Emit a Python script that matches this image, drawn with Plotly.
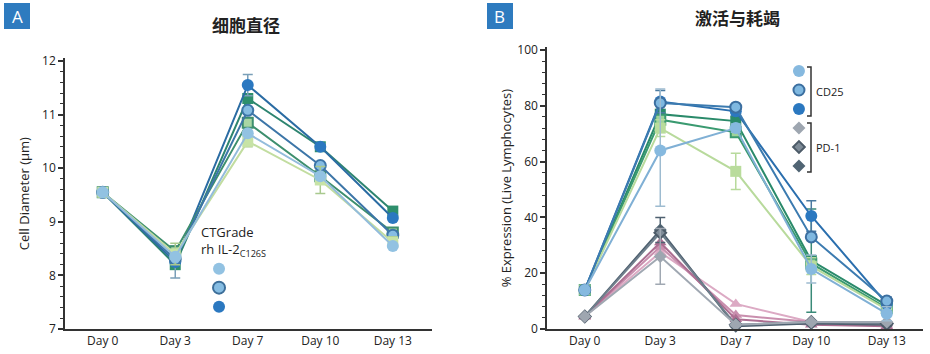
import plotly.graph_objects as go

days = ["Day 0", "Day 3", "Day 7", "Day 10", "Day 13"]

# Panel A: cell diameter (um)
a_circ_light = [9.55, 8.35, 10.65, 9.85, 8.55]
a_circ_outl = [9.55, 8.30, 11.08, 10.05, 8.75]
a_circ_dark = [9.55, 8.25, 11.55, 10.40, 9.07]
a_sq_light = [9.55, 8.40, 10.50, 9.78, 8.62]
a_sq_outl = [9.55, 8.45, 10.85, 9.85, 8.80]
a_sq_dark = [9.55, 8.20, 11.30, 10.40, 9.20]
a_err_circ_dark = [0, 0.30, 0.20, 0.05, 0.05]
a_err_sq_light = [0, 0.20, 0.10, 0.25, 0.10]

# Panel B: % expression (live lymphocytes)
b_cd25_light = [14, 64, 72, 21.5, 5.5]
b_cd25_outl = [14, 81, 79.5, 33, 10]
b_cd25_dark = [14, 81.5, 78, 40.5, 9]
b_sq_light = [14, 72, 56.5, 22.5, 7]
b_sq_outl = [14, 75, 70.5, 23.5, 7.5]
b_sq_dark = [14, 77, 74.5, 24.5, 8.5]
b_pd1_light = [4.5, 26, 1.5, 2.5, 2.5]
b_pd1_outl = [4.5, 34.5, 1.5, 2.5, 2]
b_pd1_dark = [4.5, 35.5, 1, 2, 1.5]
b_tri_light = [4.5, 27.5, 9, 2.5, 2]
b_tri_mid = [4.5, 29.5, 5, 2.5, 1.5]
b_tri_dark = [4.5, 31, 3.5, 1.5, 1]
b_err_cd25_light_p = [0, 22, 1.5, 5, 2.5]
b_err_cd25_light_m = [0, 20, 1.5, 5, 2.5]
b_err_cd25_dark = [0, 4, 1.5, 5.5, 2.5]
b_err_sq_light = [0, 3, 6.5, 3, 1.5]
b_err_sq_dark = [0, 3, 1.5, 18.5, 2]
b_err_pd1_light = [0, 10, 0.5, 0.5, 0.5]
b_err_pd1_dark = [0, 4.5, 0.5, 0.5, 0.5]

fig = go.Figure()


def add(xa, ya, y, color, line, symbol, size=11, outline=None, err=None,
        errm=None, errcolor=None):
    t = dict(x=days, y=y, xaxis=xa, yaxis=ya, mode="lines+markers",
             line=dict(color=line, width=2),
             marker=dict(color=color, symbol=symbol, size=size,
                         line=dict(color=outline or color,
                                   width=2 if outline else 0)),
             showlegend=False, hoverinfo="skip", cliponaxis=False)
    if err is not None:
        t["error_y"] = dict(type="data", array=err,
                            arrayminus=errm if errm is not None else err,
                            color=errcolor or line, thickness=1.5, width=5)
    fig.add_trace(go.Scatter(**t))


# Panel A traces
add("x", "y", a_sq_dark, "#2e8f6c", "#2e8570", "square")
add("x", "y", a_circ_dark, "#2b78c0", "#2b6ca3", "circle", size=12,
    err=a_err_circ_dark, errcolor="#7a9fb8")
add("x", "y", a_sq_outl, "#a9d6a4", "#3e8f6e", "square", size=10,
    outline="#3e8f6e")
add("x", "y", a_circ_outl, "#86bde3", "#3d76a8", "circle", size=11,
    outline="#3d76a8")
add("x", "y", a_sq_light, "#c7e3a6", "#c2dda0", "square", err=a_err_sq_light,
    errcolor="#a9c98e")
add("x", "y", a_circ_light, "#92c2e2", "#93bcdc", "circle", size=12)

# Panel B traces
add("x2", "y2", b_tri_light, "#dcaac4", "#dcaac4", "triangle-up")
add("x2", "y2", b_tri_mid, "#c98fae", "#c98fae", "triangle-up")
add("x2", "y2", b_tri_dark, "#ad6f92", "#ad6f92", "triangle-up")
add("x2", "y2", b_pd1_dark, "#506473", "#4f6170", "diamond", size=10,
    err=b_err_pd1_dark, errcolor="#4f6170")
add("x2", "y2", b_pd1_outl, "#7f8c98", "#6f7f8c", "diamond", size=9,
    outline="#4d5b68")
add("x2", "y2", b_pd1_light, "#9ea6b0", "#a0a8b2", "diamond", size=10,
    err=b_err_pd1_light, errcolor="#a0a8b2")
add("x2", "y2", b_sq_dark, "#2a8a6a", "#2a8a6a", "square",
    err=b_err_sq_dark, errcolor="#3a8a78")
add("x2", "y2", b_sq_outl, "#9fd29a", "#3a9a70", "square", size=10,
    outline="#3a9a70")
add("x2", "y2", b_sq_light, "#b9dc9c", "#b8da9c", "square",
    err=b_err_sq_light, errcolor="#b8da9c")
add("x2", "y2", b_cd25_dark, "#2b78c0", "#2b6fae", "circle", size=12,
    err=b_err_cd25_dark, errcolor="#4a7aa0")
add("x2", "y2", b_cd25_outl, "#7fb8e0", "#3c7bb0", "circle", size=11,
    outline="#3c6fa0")
add("x2", "y2", b_cd25_light, "#86b9df", "#80b0d5", "circle", size=12,
    err=b_err_cd25_light_p, errm=b_err_cd25_light_m, errcolor="#9dbbd0")

# Legend-only entries
leg_a = [("#92c2e2", None), ("#86bde3", "#3d6f9a"), ("#2b78c0", None)]
for c, o in leg_a:
    fig.add_trace(go.Scatter(x=[None], y=[None], mode="markers", name=" ",
                             legend="legend",
                             marker=dict(symbol="circle", size=12, color=c,
                                         line=dict(color=o or c,
                                                   width=2 if o else 0))))
leg_b = [("circle", 12, "#86b9df", None), ("circle", 11, "#7fb8e0", "#3c6fa0"),
         ("circle", 12, "#2b78c0", None), ("diamond", 10, "#9ea6b0", None),
         ("diamond", 9, "#7f8c98", "#4d5b68"), ("diamond", 10, "#506473", None)]
for s, sz, c, o in leg_b:
    fig.add_trace(go.Scatter(x=[None], y=[None], mode="markers", name=" ",
                             legend="legend2",
                             marker=dict(symbol=s, size=sz, color=c,
                                         line=dict(color=o or c,
                                                   width=2 if o else 0))))

font = "Open Sans"
axcol = "#333333"
xax = dict(type="category", showline=True, linecolor=axcol, linewidth=1.5,
           ticks="", showgrid=False, zeroline=False, automargin=False,
           tickfont=dict(family=font, size=12, color="#222"))
yax = dict(showline=True, linecolor=axcol, linewidth=1.5, ticks="outside",
           ticklen=5, tickwidth=1.5, tickcolor=axcol, showgrid=False,
           zeroline=False, automargin=False,
           tickfont=dict(family=font, size=12, color="#222"))

fig.update_layout(
    width=930, height=354,
    margin=dict(l=0, r=0, t=0, b=0, autoexpand=False),
    paper_bgcolor="white", plot_bgcolor="white",
    xaxis=dict(xax, domain=[0.0699, 0.4645], range=[-0.52, 4.54]),
    yaxis=dict(yax, domain=[0.0706, 0.8353], range=[7, 12.05], dtick=1,
               minor=dict(dtick=0.2, ticks="outside", ticklen=3,
                          tickcolor=axcol, tickwidth=1),
               title=dict(text="Cell Diameter (µm)", standoff=10,
                          font=dict(family=font, size=13, color="#222"))),
    xaxis2=dict(xax, domain=[0.5882, 0.9925], range=[-0.5, 4.48],
                anchor="y2"),
    yaxis2=dict(yax, domain=[0.0706, 0.8667], range=[0, 101], dtick=20,
                anchor="x2",
                minor=dict(dtick=4, ticks="outside", ticklen=3,
                           tickcolor=axcol, tickwidth=1),
                title=dict(text="% Expression (Live Lymphocytes)",
                           standoff=3,
                           font=dict(family=font, size=13, color="#222"))),
    legend=dict(x=0.214, y=0.386 - 3 / 354, xanchor="left", yanchor="top",
                bgcolor="rgba(0,0,0,0)", tracegroupgap=0,
                font=dict(family=font, size=12),
                title=dict(text="CTGrade<br>rh IL-2<sub>C126S</sub>",
                           side="top", font=dict(family=font, size=13,
                                                 color="#222"))),
    legend2=dict(x=0.8376, y=0.815 + 9 / 354, xanchor="left", yanchor="top",
                 bgcolor="rgba(0,0,0,0)", tracegroupgap=0,
                 font=dict(family=font, size=10)),
)

# Panel badges and titles
for x0, lab in [(4, "A"), (487, "B")]:
    fig.add_shape(type="rect", xref="paper", yref="paper",
                  x0=x0 / 930, x1=(x0 + 26) / 930, y0=1 - 29 / 354,
                  y1=1 - 3 / 354, fillcolor="#2e7bbf", line_width=0,
                  layer="below")
    fig.add_annotation(x=(x0 + 13) / 930, y=1 - 16 / 354, xref="paper",
                       yref="paper", text=lab, showarrow=False,
                       xanchor="center", yanchor="middle",
                       font=dict(family=font, size=17, color="white"))
fig.add_annotation(x=246 / 930, y=1 - 25 / 354, xref="paper", yref="paper",
                   text="<b>细胞直径</b>", showarrow=False,
                   xanchor="center", yanchor="middle",
                   font=dict(family="Noto Sans CJK SC", size=17, color="#222"))
fig.add_annotation(x=737 / 930, y=1 - 18 / 354, xref="paper", yref="paper",
                   text="<b>激活与耗竭</b>", showarrow=False,
                   xanchor="center", yanchor="middle",
                   font=dict(family="Noto Sans CJK SC", size=17, color="#222"))

# Brackets for panel B legend
for ytop, ybot, lab in [(67, 116, "CD25"), (123, 172, "PD-1")]:
    fig.add_shape(type="path", xref="paper", yref="paper",
                  path=(f"M {807/930},{1-ytop/354} L {811/930},{1-ytop/354} "
                        f"L {811/930},{1-ybot/354} L {807/930},{1-ybot/354}"),
                  line=dict(color="#333", width=1.5))
    fig.add_annotation(x=814 / 930, y=1 - (ytop + ybot) / 2 / 354,
                       xref="paper", yref="paper", text=lab, showarrow=False,
                       xanchor="left", yanchor="middle",
                       font=dict(family=font, size=11, color="#222"))

fig.write_html("out.html")
